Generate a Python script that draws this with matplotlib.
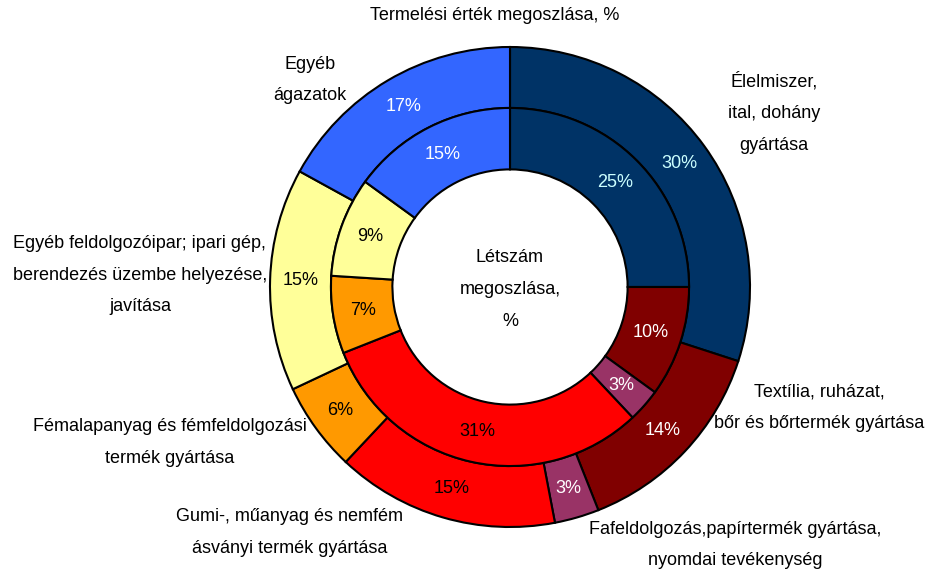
import numpy as np
import matplotlib.pyplot as plt

# Ágazatok (óramutató járásával, 12 órától)
categories = [
    'Élelmiszer,\nital, dohány\ngyártása',
    'Textília, ruházat,\nbőr és bőrtermék gyártása',
    'Fafeldolgozás,papírtermék gyártása,\nnyomdai tevékenység',
    'Gumi-, műanyag és nemfém\násványi termék gyártása',
    'Fémalapanyag és fémfeldolgozási\ntermék gyártása',
    'Egyéb feldolgozóipar; ipari gép,\nberendezés üzembe helyezése,\njavítása',
    'Egyéb\nágazatok',
]
termeles = [30, 14, 3, 15, 6, 15, 17]   # külső gyűrű
letszam = [25, 10, 3, 31, 7, 9, 15]     # belső gyűrű

colors = ['#003366', '#800000', '#993366', '#FF0000', '#FF9900', '#FFFF99', '#3366FF']
text_colors = ['#CCFFFF', 'white', 'white', 'black', 'black', 'black', 'white']

# kategória feliratok helye (adat koordináta, R=1)
label_pos = [(1.10, 0.725), (1.29, -0.504), (0.94, -1.075), (-0.917, -1.021),
             (-1.417, -0.646), (-1.542, 0.05), (-0.833, 0.8625)]

plt.rcParams['font.family'] = ['Liberation Sans', 'DejaVu Sans']

fig = plt.figure(figsize=(9.26, 5.75), dpi=100)
ax = fig.add_axes([0, 0, 1, 1])

wp = dict(edgecolor='black', linewidth=1.5)

outer, _ = ax.pie(termeles, radius=1.0, colors=colors, startangle=90, counterclock=False,
                  wedgeprops=dict(width=0.254, **wp))
inner, _ = ax.pie(letszam, radius=0.746, colors=colors, startangle=90, counterclock=False,
                  wedgeprops=dict(width=0.256, **wp))

# a pie() felülírja a határokat, ezért utána állítjuk
ax.set_xlim(-510 / 240, 416 / 240)
ax.set_ylim(-288 / 240, 287 / 240)
ax.set_aspect('equal')
ax.axis('off')


def put_labels(wedges, values, r):
    for w, v, c in zip(wedges, values, text_colors):
        ang = np.deg2rad((w.theta1 + w.theta2) / 2)
        ax.text(r * np.cos(ang), r * np.sin(ang), f'{v}%', ha='center', va='center',
                fontsize=13, color=c)


put_labels(outer, termeles, 0.873)
put_labels(inner, letszam, 0.618)

for txt, (x, y) in zip(categories, label_pos):
    ax.text(x, y, txt, ha='center', va='center', fontsize=13, linespacing=2.15)

ax.text(0, -0.01, 'Létszám\nmegoszlása,\n%', ha='center', va='center', fontsize=13,
        linespacing=2.15)
fig.text(495 / 926, 1 - 15 / 575, 'Termelési érték megoszlása, %', ha='center', va='center',
         fontsize=13)

fig.savefig('out.png', dpi=100)
